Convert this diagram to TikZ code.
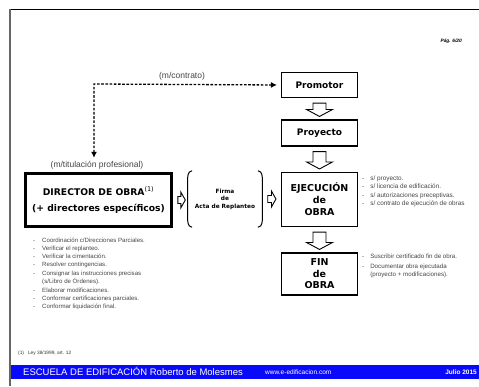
\documentclass[tikz,border=0pt]{standalone}
\usepackage{fontspec}
\setmainfont{Liberation Sans}
\newfontfamily\boxfont{DejaVu Sans}
\usetikzlibrary{calc,arrows.meta}
\definecolor{footblue}{RGB}{10,10,250}
\definecolor{txtgray}{RGB}{70,70,70}
\newcommand\hdown[2]{\draw[hollow] let \p1=(#1.south), \p2=(#2.north) in
  (\x1-6.5pt,\y1-5pt) -- (\x1+6.5pt,\y1-5pt) -- (\x1+6.5pt,\y2+10pt) -- (\x1+13pt,\y2+10pt)
  -- (\x1,\y2+3pt) -- (\x1-13pt,\y2+10pt) -- (\x1-6.5pt,\y2+10pt) -- cycle;}
\newcommand\hright[4]{\draw[hollow] let \p1=(#1.east), \p2=(#2.west) in
  (\x1+#3,\y1+3.5pt) -- (\x1+#3,\y1-3.5pt) -- (\x2-#4-4.5pt,\y1-3.5pt) -- (\x2-#4-4.5pt,\y1-8pt)
  -- (\x2-#4,\y1) -- (\x2-#4-4.5pt,\y1+8pt) -- (\x2-#4-4.5pt,\y1+3.5pt) -- cycle;}
\begin{document}
\begin{tikzpicture}[x=1pt,y=-1pt,
  box/.style={draw,line width=1.1pt,align=center,inner sep=0pt,
    font=\boxfont\bfseries\fontsize{9}{11.5}\selectfont},
  hollow/.style={draw,line width=0.9pt,fill=white,line join=miter},
  dasharrow/.style={line width=1.3pt,dash pattern=on 2.6pt off 1.6pt,
    {Latex[length=6pt,width=6pt]}-{Latex[length=6pt,width=6pt]}},
  lbl/.style={font=\fontsize{8.5}{10}\selectfont,text=txtgray,inner sep=1pt},
  blist/.style={anchor=base west,inner sep=0pt,text=txtgray,align=left},
  bracket/.style={line width=1pt,line cap=round},
  foot/.style={text=white,inner sep=0pt,anchor=base west}
]
\useasboundingbox (0,0) rectangle (479,386);
\fill[white] (0,0) rectangle (479,386);
% page frame
\draw[line width=0.8pt] (9,9) -- (479,9);
\draw[line width=1.8pt,black!60] (10,9) -- (10,386);
\node[font=\bfseries\itshape\fontsize{4.8}{6}\selectfont,anchor=base east,inner sep=0pt] (pag) at (462,42) {Pág. 6/20};

% boxes
\node[box,minimum width=76pt,minimum height=25pt] (promotor) at (319.5,85) {Promotor};
\node[box,minimum width=76pt,minimum height=26pt] (proyecto) at (319.5,133) {Proyecto};
\node[box,minimum width=76pt,minimum height=54pt,font=\boxfont\bfseries\fontsize{9.5}{12}\selectfont] (ejec) at (319.5,199.5) {EJECUCIÓN\\de\\OBRA};
\node[box,minimum width=76pt,minimum height=42pt,font=\boxfont\bfseries\fontsize{9.5}{11.5}\selectfont] (fin) at (319.5,274) {FIN\\de\\OBRA};
\node[box,line width=2.6pt,minimum width=146pt,minimum height=53pt,font=\boxfont\bfseries\fontsize{9.2}{15.5}\selectfont] (director) at (98.5,200) {DIRECTOR DE OBRA\textsuperscript{\mdseries(1)}\\(+ directores específicos)};

% firma
\node[align=center,inner sep=0pt,minimum width=76pt,minimum height=56pt,font=\boxfont\bfseries\fontsize{5.8}{7.5}\selectfont] (firma) at (225,199) {Firma\\de\\Acta de Replanteo};
\draw[bracket] let \p1=(firma.north west), \p2=(firma.south west) in
  (\x1+5pt,\y1) .. controls (\x1+0.8pt,\y1-1pt) and (\x1+0.8pt,\y1-5pt) .. (\x1+0.8pt,\y1-11pt)
  -- (\x1+0.8pt,\y2+11pt) .. controls (\x1+0.8pt,\y2+5pt) and (\x1+0.8pt,\y2+1pt) .. (\x1+5pt,\y2);
\draw[bracket] let \p1=(firma.north east), \p2=(firma.south east) in
  (\x1-5pt,\y1) .. controls (\x1-0.8pt,\y1-1pt) and (\x1-0.8pt,\y1-5pt) .. (\x1-0.8pt,\y1-11pt)
  -- (\x1-0.8pt,\y2+11pt) .. controls (\x1-0.8pt,\y2+5pt) and (\x1-0.8pt,\y2+1pt) .. (\x1-5pt,\y2);

% hollow arrows
\hdown{promotor}{proyecto}
\hdown{proyecto}{ejec}
\hdown{ejec}{fin}
\hright{director}{firma}{5pt}{1.5pt}
\hright{firma}{ejec}{4.5pt}{5pt}

% dashed relation
\node[lbl] (tit) at (97,165) {(m/titulación profesional)};
\coordinate (corner) at (94,84);
\draw[dasharrow,shorten >=4pt,shorten <=2pt] (corner |- tit.north) -- (corner) -- (promotor.west);
\node[lbl] (contrato) at (182,76.5) {(m/contrato)};

% lists
\node[blist,font=\fontsize{6.1}{8}\selectfont] (dirlist) at (33,242) {\begin{tabular}[t]{@{}l@{\hspace{7pt}}l@{}}
-&Coordinación c/Direcciones Parciales.\\
-&Verificar el replanteo.\\
-&Verificar la cimentación.\\
-&Resolver contingencias.\\[1pt]
-&Consignar las instrucciones precisas\\
 &(s/Libro de Órdenes).\\[1pt]
-&Elaborar modificaciones.\\
-&Conformar certificaciones parciales.\\
-&Conformar liquidación final.
\end{tabular}};
\node[blist,font=\fontsize{6.4}{8.5}\selectfont] (ejlist) at (362,180) {\begin{tabular}[t]{@{}l@{\hspace{6pt}}l@{}}
-&s/ proyecto.\\
-&s/ licencia de edificación.\\
-&s/ autorizaciones preceptivas.\\
-&s/ contrato de ejecución de obras
\end{tabular}};
\node[blist,font=\fontsize{6.2}{8}\selectfont] (finlist) at (362,258) {\begin{tabular}[t]{@{}l@{\hspace{6pt}}l@{}}
-&Suscribir certificado fin de obra.\\[2pt]
-&Documentar obra ejecutada\\
 &(proyecto + modificaciones).
\end{tabular}};
\node[blist,text=black!80,font=\fontsize{4.8}{6}\selectfont] (nota) at (18,354) {(1)\hspace{4pt}Ley 38/1999, art. 12};

% footer
\fill[footblue] (11,365) rectangle (479,379);
\node[foot,font=\fontsize{9.5}{11}\selectfont] (escuela) at (23,375.5) {ESCUELA DE EDIFICACIÓN Roberto de Molesmes};
\node[foot,font=\fontsize{6.5}{8}\selectfont] (web) at (265,374.5) {www.e-edificacion.com};
\node[foot,anchor=base east,font=\bfseries\fontsize{6.5}{8}\selectfont] (fecha) at (477,374.5) {Julio 2015};
\end{tikzpicture}
\end{document}
